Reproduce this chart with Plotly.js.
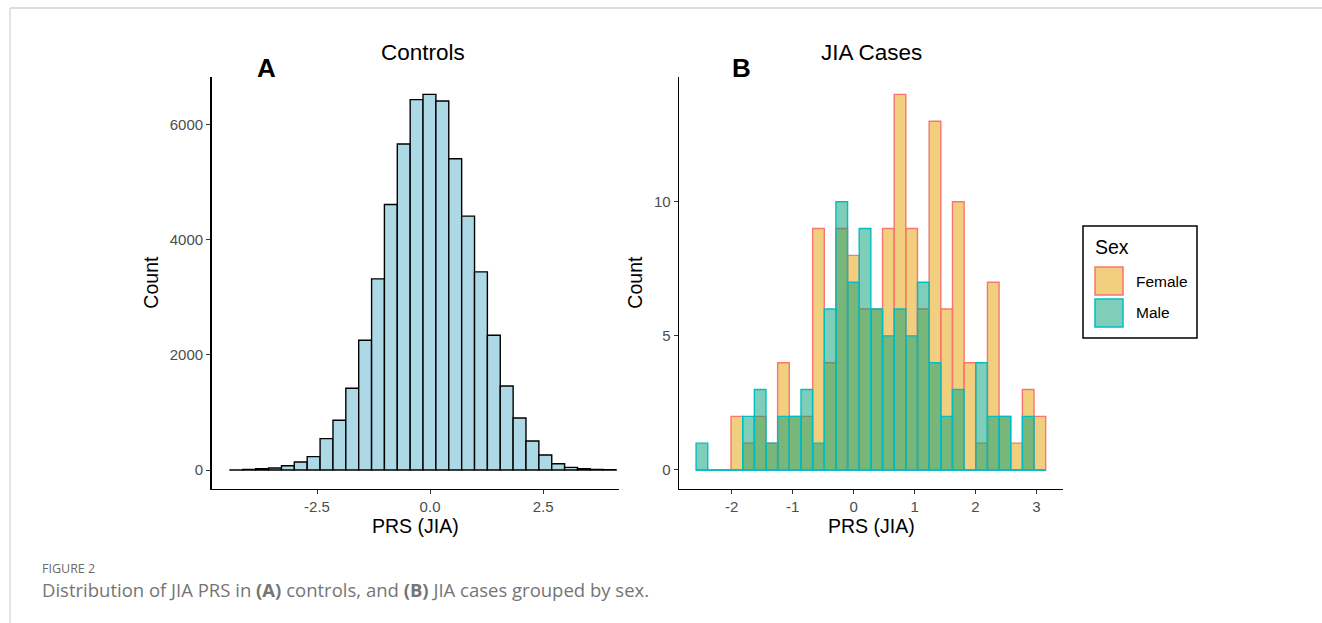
<!DOCTYPE html>
<html>
<head>
<meta charset="utf-8">
<script src="https://cdn.plot.ly/plotly-3.0.1.min.js"></script>
<style>
html,body{margin:0;padding:0;background:#fff;}
#chart{width:1322px;height:623px;}
</style>
</head>
<body>
<div id="chart"></div>
<script>
// ---------- DATA ----------
// Panel A: controls, bin centres (PRS) and counts
var controlBins = [-4.283,-3.998,-3.714,-3.429,-3.144,-2.860,-2.575,-2.290,-2.005,-1.721,
                   -1.436,-1.151,-0.867,-0.582,-0.297,-0.013,0.272,0.557,0.842,1.126,
                   1.411,1.696,1.980,2.265,2.550,2.834,3.119,3.404,3.689,3.973];
var controlCounts = [2,10,22,35,75,140,232,545,864,1420,
                     2255,3322,4614,5664,6435,6527,6412,5409,4412,3443,
                     2342,1461,904,504,261,110,46,23,12,5];
var controlBinWidth = 0.2847;

// Panel B: JIA cases by sex
var caseBins = [-2.489,-2.298,-2.107,-1.916,-1.724,-1.533,-1.342,-1.151,-0.960,-0.768,
                -0.577,-0.386,-0.195,-0.004,0.187,0.379,0.570,0.761,0.952,1.143,
                1.335,1.526,1.717,1.908,2.099,2.291,2.482,2.673,2.864,3.055];
var femaleCounts = [0,0,0,2,1,2,1,4,2,2,
                    9,4,9,8,6,6,9,14,9,6,
                    13,6,10,4,1,7,2,1,3,2];
var maleCounts = [1,0,0,0,2,3,1,2,2,3,
                  1,6,10,7,9,6,5,6,5,7,
                  4,2,3,0,4,2,2,0,2,0];
var caseBinWidth = 0.1912;

var seriesNames = ["Female", "Male"];
var panelTitles = ["Controls", "JIA Cases"];
var panelLetters = ["A", "B"];
var xTicksA = [-2.5, 0, 2.5], xTickTextA = ["-2.5", "0.0", "2.5"];
var yTicksA = [0, 2000, 4000, 6000], yTickTextA = ["0", "2000", "4000", "6000"];
var xTicksB = [-2, -1, 0, 1, 2, 3], xTickTextB = ["-2", "-1", "0", "1", "2", "3"];
var yTicksB = [0, 5, 10], yTickTextB = ["0", "5", "10"];
var xLabel = "PRS (JIA)", yLabel = "Count", legendTitle = "Sex";
var captionHead = "FIGURE 2";
var captionText = "Distribution of JIA PRS in <b>(A)</b> controls, and <b>(B)</b> JIA cases grouped by sex.";

// ---------- STYLE ----------
var W = 1322, H = 623;
function px(x){ return x / W; }
function py(y){ return 1 - y / H; }
var FONT = "Arial, 'Liberation Sans', Helvetica, sans-serif";
var femaleFill = "rgba(230,159,0,0.5)", femaleLine = "#F8766D";
var maleFill = "rgba(0,158,115,0.5)", maleLine = "#00BFC4";

var traces = [
  {
    type: "bar", x: controlBins, y: controlCounts, width: controlBinWidth,
    xaxis: "x", yaxis: "y", showlegend: false,
    marker: {color: "#ADD8E6", line: {color: "#000000", width: 1.4}}
  },
  {
    type: "bar", name: seriesNames[0], x: caseBins, y: femaleCounts, width: caseBinWidth,
    xaxis: "x2", yaxis: "y2", showlegend: false,
    marker: {color: femaleFill, line: {color: femaleLine, width: 1.4}}
  },
  {
    type: "bar", name: seriesNames[1], x: caseBins, y: maleCounts, width: caseBinWidth,
    xaxis: "x2", yaxis: "y2", showlegend: false,
    marker: {color: maleFill, line: {color: maleLine, width: 1.4}}
  },
  {
    type: "scatter", mode: "lines", showlegend: false, hoverinfo: "skip",
    x: [caseBins[0] - caseBinWidth / 2, caseBins[caseBins.length - 1] + caseBinWidth / 2],
    y: [0, 0], xaxis: "x2", yaxis: "y2",
    line: {color: maleLine, width: 1.4}
  }
];

var axisCommon = {
  showline: true, linecolor: "#000000", linewidth: 1.6,
  showgrid: false, zeroline: false,
  ticks: "outside", ticklen: 4, tickwidth: 1, tickcolor: "#333333",
  tickfont: {family: FONT, size: 15, color: "#4D4D4D"},
  fixedrange: true
};
function ax(extra){ var o = {}; for (var k in axisCommon) o[k] = axisCommon[k]; for (var k2 in extra) o[k2] = extra[k2]; return o; }
var titleFont = {family: FONT, size: 19.5, color: "#000"};

var yTop = 76.7, yBot = 488.5;

function ann(text, x, y, size, opts){
  var a = {text: text, x: px(x), y: py(y), xref: "paper", yref: "paper", showarrow: false,
           font: {family: FONT, size: size, color: "#000"}, xanchor: "center", yanchor: "middle"};
  if (opts) for (var k in opts) a[k] = opts[k];
  return a;
}

var layout = {
  width: W, height: H,
  margin: {l: 0, r: 0, t: 0, b: 0},
  paper_bgcolor: "#ffffff", plot_bgcolor: "#ffffff",
  barmode: "overlay", bargap: 0,
  font: {family: FONT, color: "#000000"},
  showlegend: false,
  xaxis: ax({domain: [px(211.7), px(619)], range: [-4.83, 4.18], anchor: "y",
    tickmode: "array", tickvals: xTicksA, ticktext: xTickTextA,
    title: {text: xLabel, font: titleFont, standoff: 4}}),
  yaxis: ax({domain: [py(yBot), py(yTop)], range: [-321, 6834], anchor: "x",
    tickmode: "array", tickvals: yTicksA, ticktext: yTickTextA,
    title: {text: yLabel, font: titleFont, standoff: 6}}),
  xaxis2: ax({domain: [px(679.3), px(1063.3)], range: [-2.86, 3.44], anchor: "y2",
    tickmode: "array", tickvals: xTicksB, ticktext: xTickTextB,
    title: {text: xLabel, font: titleFont, standoff: 4}}),
  yaxis2: ax({domain: [py(yBot), py(yTop)], range: [-0.69, 14.66], anchor: "x2",
    tickmode: "array", tickvals: yTicksB, ticktext: yTickTextB,
    title: {text: yLabel, font: titleFont, standoff: 6}}),
  annotations: [
    ann(panelTitles[0], 423, 52, 22.5),
    ann(panelTitles[1], 871, 52, 22.5),
    ann("<b>" + panelLetters[0] + "</b>", 266, 68, 26),
    ann("<b>" + panelLetters[1] + "</b>", 741, 68, 26),
    // legend
    ann(legendTitle, 1093, 247, 19.5, {xanchor: "left"}),
    ann(seriesNames[0], 1134, 281, 15.5, {xanchor: "left"}),
    ann(seriesNames[1], 1134, 312, 15.5, {xanchor: "left"}),
    // caption
    {text: captionHead, x: px(40), y: py(568), xref: "paper", yref: "paper", showarrow: false,
     font: {family: "'Open Sans', sans-serif", size: 12.5, color: "#6b6b6b"}, xanchor: "left", yanchor: "middle"},
    {text: captionText, x: px(40), y: py(589), xref: "paper", yref: "paper", showarrow: false,
     font: {family: "'Open Sans', sans-serif", size: 18.5, color: "#757575"}, xanchor: "left", yanchor: "middle"}
  ],
  shapes: [
    // page frame
    {type: "line", xref: "paper", yref: "paper", x0: px(10), x1: 1, y0: py(8), y1: py(8),
     line: {color: "#dddddd", width: 2}},
    {type: "line", xref: "paper", yref: "paper", x0: px(10), x1: px(10), y0: py(8), y1: 0,
     line: {color: "#dddddd", width: 1.5}},
    // legend box and keys
    {type: "rect", xref: "paper", yref: "paper", x0: px(1083), x1: px(1197), y0: py(338), y1: py(226),
     line: {color: "#000000", width: 1.5}, fillcolor: "rgba(0,0,0,0)"},
    {type: "rect", xref: "paper", yref: "paper", x0: px(1095), x1: px(1123), y0: py(295), y1: py(267),
     line: {color: femaleLine, width: 1.5}, fillcolor: femaleFill},
    {type: "rect", xref: "paper", yref: "paper", x0: px(1095), x1: px(1123), y0: py(327), y1: py(299),
     line: {color: maleLine, width: 1.5}, fillcolor: maleFill}
  ]
};

Plotly.newPlot("chart", traces, layout, {displayModeBar: false, staticPlot: true});
</script>
</body>
</html>
